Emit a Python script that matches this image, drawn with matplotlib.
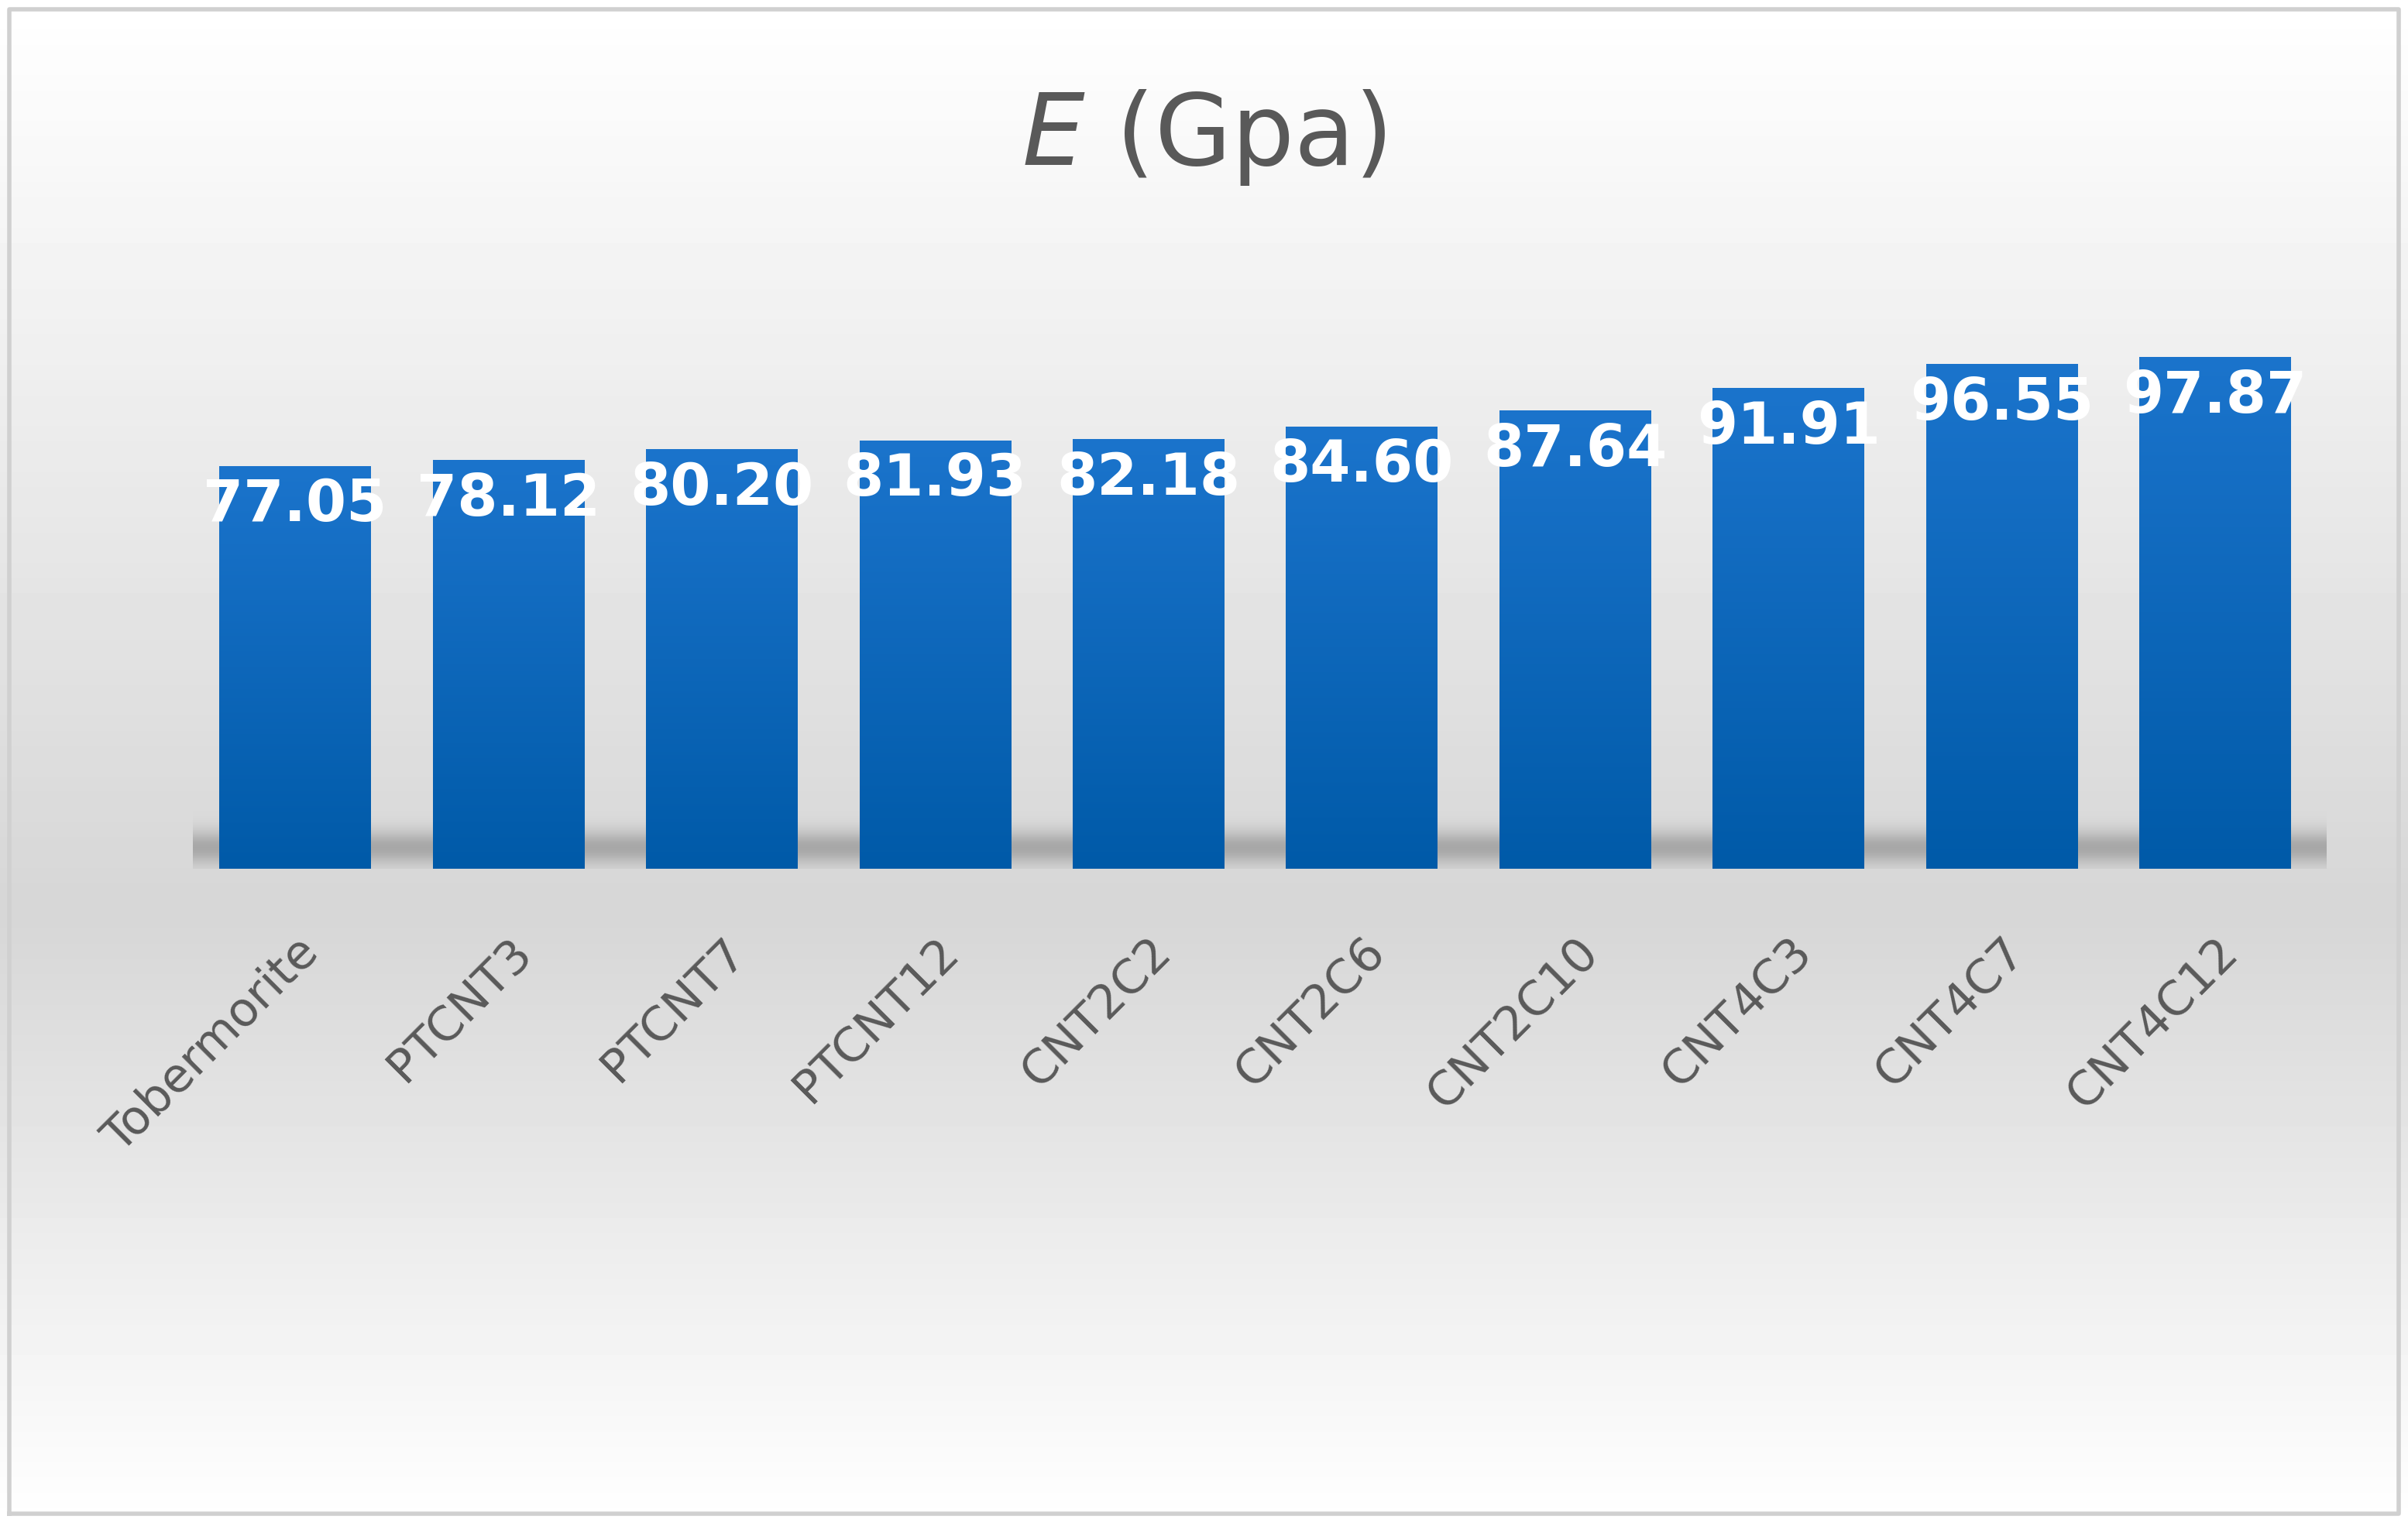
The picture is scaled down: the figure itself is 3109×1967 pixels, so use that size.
import numpy as np
import matplotlib.pyplot as plt
from matplotlib.colors import LinearSegmentedColormap

categories = ["Tobermorite", "PTCNT3", "PTCNT7", "PTCNT12", "CNT2C2",
              "CNT2C6", "CNT2C10", "CNT4C3", "CNT4C7", "CNT4C12"]
values = [77.05, 78.12, 80.20, 81.93, 82.18, 84.60, 87.64, 91.91, 96.55, 97.87]

fig = plt.figure(figsize=(15.545, 9.835), dpi=200)

# background gradient: white top -> light grey middle -> white bottom
bg = fig.add_axes([0, 0, 1, 1], zorder=-10)
g = np.concatenate([np.linspace(1.0, 0.84, 60), np.linspace(0.84, 1.0, 40)])
bg.imshow(np.repeat(g[:, None], 2, axis=1), cmap="gray", vmin=0, vmax=1,
          aspect="auto", extent=[0, 1, 0, 1])
# soft shadow band behind bars
sh = np.exp(-((np.linspace(0, 1, 100) - 0.85) / 0.12) ** 2)
bg.imshow(sh[:, None] * np.ones((1, 2)), cmap=LinearSegmentedColormap.from_list(
    "s", [(0.5, 0.5, 0.5, 0.0), (0.5, 0.5, 0.5, 0.55)]), vmin=0, vmax=1,
    aspect="auto", extent=[0.08, 0.966, 0.4294, 0.52])
bg.plot([0.004, 0.996, 0.996, 0.004, 0.004], [0.006, 0.006, 0.994, 0.994, 0.006],
        color="#d0d0d0", lw=2)
bg.set_xlim(0, 1)
bg.set_ylim(0, 1)
bg.axis("off")

ax = fig.add_axes([0.080, 0.4294, 0.886, 0.378])
ax.patch.set_alpha(0)
x = np.arange(len(categories))
bars = ax.bar(x, values, width=0.71, color="none")
ax.set_xlim(-0.48, 9.52)
ax.set_ylim(0, 110)

cmap = LinearSegmentedColormap.from_list("b", ["#005aa8", "#1b74cc"])
grad = np.linspace(0, 1, 256)[:, None]
for b in bars:
    x0, w, h = b.get_x(), b.get_width(), b.get_height()
    im = ax.imshow(grad, cmap=cmap, origin="lower", aspect="auto",
                   extent=[x0, x0 + w, 0, h], zorder=2)
    im.set_clip_path(b)
    ax.text(x0 + w / 2, h - 13, f"{h:.2f}", ha="center", va="bottom",
            color="white", fontsize=27, fontweight="bold", zorder=3)

ax.set_xticks(x)
ax.set_xticklabels(categories, rotation=45, ha="right", rotation_mode="anchor",
                   fontsize=22, color="#595959")
ax.tick_params(axis="x", length=0, pad=28)
ax.set_yticks([])
for s in ax.spines.values():
    s.set_visible(False)
ax.set_xlim(-0.48, 9.52)

fig.text(0.5, 0.91, r"$\mathit{E}$ (Gpa)", ha="center", va="center",
         fontsize=46, color="#595959", math_fontfamily="dejavusans")

fig.savefig("out.png", dpi=200)
